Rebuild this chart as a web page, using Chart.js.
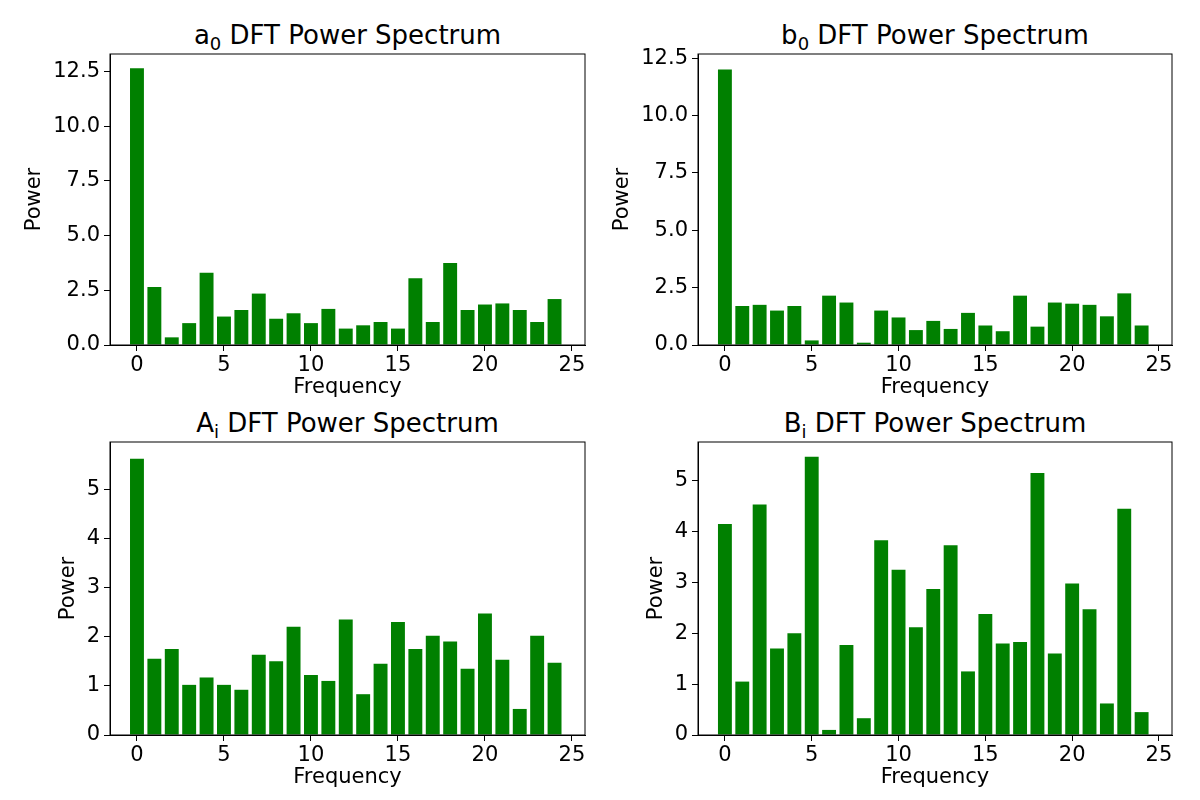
<!DOCTYPE html>
<html>
<head>
<meta charset="utf-8">
<script src="https://cdn.jsdelivr.net/npm/chart.js@4.4.0/dist/chart.umd.min.js"></script>
<style>
  body { margin: 0; background: white; width: 1200px; height: 800px; position: relative; overflow: hidden; }
  canvas { position: absolute; }
  .ttl { position: absolute; font-family: 'DejaVu Sans'; font-size: 26px; text-align: center; color: #000; }
  .ttl sub { font-size: 18px; color: #000; }
</style>
</head>
<body>
<div class="ttl" style="left:110px;width:475px;top:20px">a<sub>0</sub> DFT Power Spectrum</div>
<div class="ttl" style="left:698px;width:474px;top:20px">b<sub>0</sub> DFT Power Spectrum</div>
<div class="ttl" style="left:110px;width:475px;top:408px">A<sub>i</sub> DFT Power Spectrum</div>
<div class="ttl" style="left:698px;width:474px;top:408px">B<sub>i</sub> DFT Power Spectrum</div>
<canvas id="c1" width="600" height="400" style="left:0;top:0"></canvas>
<canvas id="c2" width="600" height="400" style="left:600px;top:0"></canvas>
<canvas id="c3" width="600" height="400" style="left:0;top:390px"></canvas>
<canvas id="c4" width="600" height="400" style="left:600px;top:390px"></canvas>
<script>
const frequencies = [0,1,2,3,4,5,6,7,8,9,10,11,12,13,14,15,16,17,18,19,20,21,22,23,24];
const a0Power = [12.65,2.65,0.35,1.0,3.3,1.3,1.6,2.35,1.2,1.45,1.0,1.65,0.75,0.9,1.05,0.75,3.05,1.05,3.75,1.6,1.85,1.9,1.6,1.05,2.1];
const b0Power = [12.0,1.7,1.75,1.5,1.7,0.2,2.15,1.85,0.1,1.5,1.2,0.65,1.05,0.7,1.4,0.85,0.6,2.15,0.8,1.85,1.8,1.75,1.25,2.25,0.85];
const AiPower = [5.62,1.55,1.75,1.02,1.17,1.02,0.92,1.63,1.5,2.2,1.22,1.1,2.35,0.83,1.45,2.3,1.75,2.02,1.9,1.35,2.47,1.53,0.53,2.02,1.47];
const BiPower = [4.15,1.05,4.53,1.7,2.0,5.47,0.1,1.77,0.33,3.83,3.25,2.12,2.87,3.73,1.25,2.38,1.8,1.83,5.15,1.6,2.98,2.47,0.62,4.45,0.45];
const xTicks = [0,5,10,15,20,25];

const frame = {
  id: 'frame',
  afterDraw(chart) {
    const a = chart.chartArea, c = chart.ctx;
    c.save(); c.strokeStyle = 'black'; c.lineWidth = 1;
    c.strokeRect(a.left, a.top, a.right - a.left, a.bottom - a.top);
    c.restore();
  }
};

function panel(id, values, yMax, yTicks, yLabels, axisW, padR, padT, xH, yTitlePad) {
  new Chart(document.getElementById(id), {
    type: 'bar',
    data: {
      datasets: [{
        data: frequencies.map((f, i) => ({ x: f, y: values[i] })),
        backgroundColor: 'green',
        barPercentage: 0.8,
        categoryPercentage: 1.0,
      }]
    },
    plugins: [frame],
    options: {
      responsive: false,
      animation: false,
      layout: { padding: { left: 0, right: padR, top: padT, bottom: 0 } },
      plugins: { legend: { display: false }, tooltip: { enabled: false } },
      scales: {
        x: {
          type: 'linear', min: -1.55, max: 25.75, offset: false,
          afterBuildTicks: s => { s.ticks = xTicks.map(v => ({ value: v })); },
          afterFit: s => { s.height = xH; },
          grid: { drawOnChartArea: false, offset: false, color: 'black', tickLength: 6 },
          border: { color: 'black' },
          ticks: { color: 'black', padding: 2, maxRotation: 0, font: { family: 'DejaVu Sans', size: 21 } },
          title: { display: true, text: 'Frequency', color: 'black', padding: 0, font: { family: 'DejaVu Sans', size: 21 } }
        },
        y: {
          min: 0, max: yMax,
          afterBuildTicks: s => { s.ticks = yTicks.map(v => ({ value: v })); },
          afterFit: s => { s.width = axisW; },
          grid: { drawOnChartArea: false, color: 'black', tickLength: 6 },
          border: { color: 'black' },
          ticks: { color: 'black', padding: 4, font: { family: 'DejaVu Sans', size: 21 },
                   callback: (v, i) => yLabels[i] },
          title: { display: true, text: 'Power', color: 'black', padding: { top: yTitlePad, bottom: 0 }, font: { family: 'DejaVu Sans', size: 21 } }
        }
      }
    }
  });
}

const topTicks = [0, 2.5, 5, 7.5, 10, 12.5];
const topLabels = ['0.0', '2.5', '5.0', '7.5', '10.0', '12.5'];
const botTicks = [0, 1, 2, 3, 4, 5];
const botLabels = ['0', '1', '2', '3', '4', '5'];

panel('c1', a0Power, 13.3, topTicks, topLabels, 110, 15, 54, 55, 22);
panel('c2', b0Power, 12.68, topTicks, topLabels, 98, 28, 54, 55, 10);
panel('c3', AiPower, 5.96, botTicks, botLabels, 110, 15, 52, 55, 56);
panel('c4', BiPower, 5.76, botTicks, botLabels, 98, 28, 52, 55, 44);
</script>
</body>
</html>
